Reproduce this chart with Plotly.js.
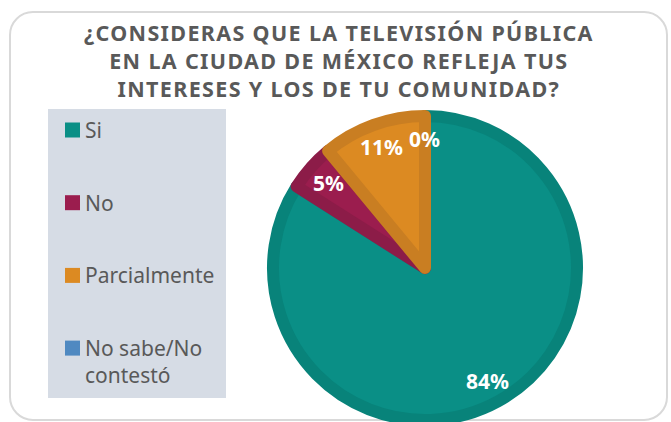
<!DOCTYPE html>
<html><head><meta charset="utf-8">
<script src="https://cdn.plot.ly/plotly-3.0.1.min.js"></script>
<style>
html,body{margin:0;padding:0;width:671px;height:422px;overflow:hidden;background:#fff;}
#frame{position:absolute;left:9px;top:11px;width:659px;height:410px;border:2px solid #d9d9d9;border-radius:24px;box-sizing:border-box;}
#chart{position:absolute;left:0;top:0;width:671px;height:440px;}
.gtitle{letter-spacing:1.35px;}
</style></head><body>
<div id="frame"></div><div id="chart"></div>
<script>
const titleLines = ["¿CONSIDERAS QUE LA TELEVISIÓN PÚBLICA", "EN LA CIUDAD DE MÉXICO REFLEJA TUS", "INTERESES Y LOS DE TU COMUNIDAD?"];
const categories = ["Si", "No", "Parcialmente", "No sabe/No contestó"];
const values = [84, 5, 11, 0];
const colors = ["#0a8f86", "#9b1d4e", "#dc8a22", "#4f89c1"];
const borderColors = ["#08837a", "#8c1c48", "#c97e22", "#4a80b5"];

const W = 671, H = 440;
const fx = x => x / W, fy = y => 1 - y / H;

// pie geometry (pixels)
const cx = 425, cy = 268, rOuter = 158, lw = 12;
const rPath = rOuter - lw / 2;

const trace = {
  type: 'pie',
  labels: categories,
  values: values,
  sort: false,
  direction: 'clockwise',
  rotation: 0,
  marker: {colors: colors, line: {color: borderColors, width: values.map(v => v > 0 ? lw : 0)}},
  textinfo: 'none',
  hoverinfo: 'label+percent',
  showlegend: false,
  domain: {x: [fx(cx - rPath), fx(cx + rPath)], y: [fy(cy + rPath), fy(cy - rPath)]}
};

const shapes = [];
const annotations = [];

// data labels: placed along each slice's mid-angle (computed from the values)
const total = values.reduce((a, b) => a + b, 0);
let cum = 0;
values.forEach((v, i) => {
  const mid = (cum + v / 2) / total * 2 * Math.PI;
  cum += v;
  const rr = rOuter * 0.815;
  annotations.push({
    xref: 'paper', yref: 'paper',
    x: fx(cx + rr * Math.sin(mid)), y: fy(cy - rr * Math.cos(mid)),
    xanchor: 'center', yanchor: 'middle', showarrow: false,
    text: v + '%',
    font: {family: 'Noto Sans', size: 21, color: '#ffffff', weight: 'bold'}
  });
});

// custom legend
const legTop = 130, legStep = 72.7, lineH = 27.3;
shapes.push({
  type: 'rect', xref: 'paper', yref: 'paper', layer: 'below',
  x0: fx(48), x1: fx(226), y0: fy(398), y1: fy(109),
  fillcolor: '#d6dce5', line: {width: 0}
});
categories.forEach((c, i) => {
  const yc = legTop + i * legStep;
  shapes.push({
    type: 'rect', xref: 'paper', yref: 'paper', layer: 'below',
    x0: fx(65), x1: fx(80), y0: fy(yc + 7.5), y1: fy(yc - 7.5),
    fillcolor: colors[i], line: {width: 0}
  });
  const txt = c.replace('/No ', '/No<br>');
  const nl = txt.split('<br>').length;
  annotations.push({
    xref: 'paper', yref: 'paper', x: fx(83), y: fy(yc + (nl - 1) * lineH / 2),
    xanchor: 'left', yanchor: 'middle', align: 'left', showarrow: false,
    text: txt, font: {family: 'Noto Sans', size: 21, color: '#595959'}
  });
});

const layout = {
  width: W, height: H,
  margin: {l: 0, r: 0, t: 0, b: 0},
  paper_bgcolor: 'rgba(0,0,0,0)',
  plot_bgcolor: 'rgba(0,0,0,0)',
  showlegend: false,
  title: {
    text: titleLines.join('<br>'),
    x: 0.505, xanchor: 'center', y: fy(41), yanchor: 'top',
    font: {family: 'Noto Sans', size: 21.5, color: '#595959', weight: 'bold'}
  },
  shapes: shapes,
  annotations: annotations
};

Plotly.newPlot('chart', [trace], layout, {displayModeBar: false, staticPlot: true});
</script>
</body></html>
